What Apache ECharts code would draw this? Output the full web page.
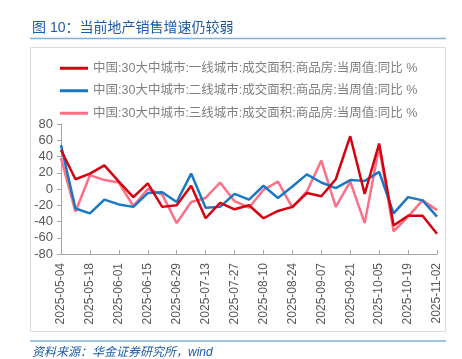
<!DOCTYPE html>
<html><head><meta charset="utf-8">
<script src="https://cdn.jsdelivr.net/npm/echarts@6/dist/echarts.min.js"></script>
<style>html,body{margin:0;padding:0;background:#fff}#c{width:462px;height:359px}</style>
</head><body><div id="c"></div>
<script>
const dates = ['2025-05-04','2025-05-11','2025-05-18','2025-05-25','2025-06-01','2025-06-08','2025-06-15','2025-06-22','2025-06-29','2025-07-06','2025-07-13','2025-07-20','2025-07-27','2025-08-03','2025-08-10','2025-08-17','2025-08-24','2025-08-31','2025-09-07','2025-09-14','2025-09-21','2025-09-28','2025-10-05','2025-10-12','2025-10-19','2025-10-26','2025-11-02'];
const tier1 = [48, 12, 19, 29, 9, -10, 7, -22, -20, 4, -36, -17, -25, -20, -36, -27, -22, -5, -9, 12, 65, -6, 56, -45, -33, -33, -55];
const tier2 = [54, -24, -30, -13, -19, -22, -5, -4, -16, 19, -23, -22, -6, -13, 4, -11, 3, 18, 8, 1, 11, 10, 21, -30, -10, -14, -34];
const tier3 = [38, -28, 17, 11, 8, -21, 0, -7, -42, -16, -11, 8, -15, -23, -1, 9, -23, -3, 35, -22, 9, -42, 52, -52, -34, -14, -26];
const names = ['中国:30大中城市:一线城市:成交面积:商品房:当周值:同比 %','中国:30大中城市:二线城市:成交面积:商品房:当周值:同比 %','中国:30大中城市:三线城市:成交面积:商品房:当周值:同比 %'];
const colors = ['#d7000f','#1a78c2','#ff6f85'];
const yMin = -80, yMax = 80, yStep = 20;

const chart = echarts.init(document.getElementById('c'), null, {renderer:'canvas'});
const font = '"Liberation Sans", Arial, "Noto Sans CJK SC", sans-serif';
const series = [tier1, tier2, tier3].map((d, i) => ({
  name: names[i], type: 'line', data: d, symbol: 'none', xAxisIndex: 0,
  lineStyle: {color: colors[i], width: 2.5}, itemStyle: {color: colors[i]}, z: 10 - i
}));
chart.setOption({
  animation: false,
  textStyle: {fontFamily: font},
  graphic: [
    {type:'text', left: 32, top: 21, style:{text:'图 10：当前地产销售增速仍较弱', fill:'#1d5aa8', font:'14px ' + font}},
    {type:'line', shape:{x1:30,y1:38.5,x2:446,y2:38.5}, style:{stroke:'#7fb0d8', lineWidth:1.5}},
    {type:'rect', shape:{x:30.5,y:47.5,width:415,height:284}, style:{fill:'none', stroke:'#dcdcdc', lineWidth:1}},
    {type:'line', shape:{x1:30,y1:341,x2:446,y2:341}, style:{stroke:'#7fb0d8', lineWidth:1.5}},
    {type:'text', left: 32, top: 347, style:{text:'资料来源：华金证券研究所，wind', fill:'#1d5aa8', font:'italic 12px ' + font}}
  ],
  legend: {
    orient: 'vertical', left: 55, top: 57, itemWidth: 28, itemHeight: 3, itemGap: 10,
    icon: 'rect', textStyle: {color: '#808080', fontSize: 12.5, fontFamily: font},
    data: names
  },
  grid: {left: 61, right: 25, top: 124, bottom: 105},
  xAxis: [
    {type:'category', data: dates, boundaryGap: false, position: 'bottom',
     axisLine:{show:false}, axisTick:{show:false},
     axisLabel:{rotate:90, interval:1, color:'#595959', fontSize:12, margin:9}},
    {type:'category', data: dates, boundaryGap: false, position: 'bottom',
     axisLine:{show:true, onZero:true, lineStyle:{color:'#a6a6a6'}},
     axisTick:{show:true, interval:1, inside:true, length:4, lineStyle:{color:'#a6a6a6'}},
     axisLabel:{show:false}}
  ],
  yAxis: {type:'value', min: yMin, max: yMax, interval: yStep,
    axisLine:{show:true, lineStyle:{color:'#a6a6a6'}},
    axisTick:{show:true, length:4, lineStyle:{color:'#a6a6a6'}},
    splitLine:{show:false},
    axisLabel:{color:'#595959', fontSize:13, margin:8}},
  series: series
});
</script></body></html>
